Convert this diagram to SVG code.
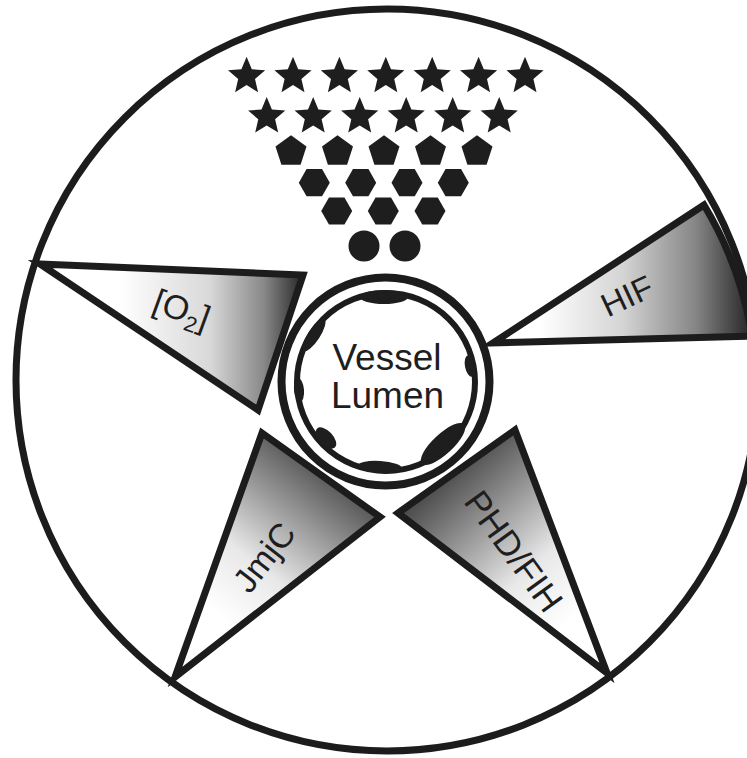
<svg xmlns="http://www.w3.org/2000/svg" width="747" height="758" viewBox="0 0 747 758">
<style>
.edge{stroke:#1c1c1c;stroke-width:7;stroke-linejoin:miter;stroke-miterlimit:10}
.dark{fill:#1e1e1e}
.lbl{font-family:"Liberation Sans",Arial,sans-serif;fill:#1e1e1e}
</style>
<defs>
<linearGradient id="gO2" gradientUnits="userSpaceOnUse" x1="120" y1="0" x2="300" y2="0">
<stop offset="0" stop-color="#ffffff"/><stop offset="0.5" stop-color="#d8d8d8"/><stop offset="0.8" stop-color="#888888"/><stop offset="1" stop-color="#2e2e2e"/>
</linearGradient>
<linearGradient id="gHIF" gradientUnits="userSpaceOnUse" x1="540" y1="0" x2="748" y2="0">
<stop offset="0" stop-color="#ffffff"/><stop offset="0.4" stop-color="#d4d4d4"/><stop offset="0.75" stop-color="#858585"/><stop offset="1" stop-color="#2a2a2a"/>
</linearGradient>
<linearGradient id="gJ" gradientUnits="userSpaceOnUse" x1="355" y1="455" x2="225" y2="620">
<stop offset="0" stop-color="#2e2e2e"/><stop offset="0.35" stop-color="#8a8a8a"/><stop offset="0.7" stop-color="#e8e8e8"/><stop offset="1" stop-color="#ffffff"/>
</linearGradient>
<linearGradient id="gP" gradientUnits="userSpaceOnUse" x1="415" y1="470" x2="560" y2="630">
<stop offset="0" stop-color="#2e2e2e"/><stop offset="0.35" stop-color="#8a8a8a"/><stop offset="0.7" stop-color="#e8e8e8"/><stop offset="1" stop-color="#ffffff"/>
</linearGradient>
<path id="star" d="M0,-19.6 L5.2,-7.1 L18.6,-6 L8.4,2.7 L11.5,15.9 L0,8.8 L-11.5,15.9 L-8.4,2.7 L-18.6,-6 L-5.2,-7.1 Z"/>
<path id="pent" d="M0,-16.3 L15.5,-5.04 L9.58,13.19 L-9.58,13.19 L-15.5,-5.04 Z"/>
<path id="hex" d="M15.5,0 L7.75,13.6 L-7.75,13.6 L-15.5,0 L-7.75,-13.6 L7.75,-13.6 Z"/>
</defs>
<rect width="747" height="758" fill="#ffffff"/>

<g id="outer-circle">
<circle cx="387" cy="380" r="371" fill="#ffffff" class="edge"/>
</g>

<g id="gradient-molecules" class="dark">
<use href="#star" x="246.6" y="76.3"/><use href="#star" x="293" y="76.3"/><use href="#star" x="339.4" y="76.3"/><use href="#star" x="385.8" y="76.3"/><use href="#star" x="432.2" y="76.3"/><use href="#star" x="478.6" y="76.3"/><use href="#star" x="525" y="76.3"/>
<use href="#star" x="266.7" y="116.6"/><use href="#star" x="313.2" y="116.6"/><use href="#star" x="359.7" y="116.6"/><use href="#star" x="406.2" y="116.6"/><use href="#star" x="452.7" y="116.6"/><use href="#star" x="499.2" y="116.6"/>
<use href="#pent" x="291" y="151.5"/><use href="#pent" x="337.5" y="151.5"/><use href="#pent" x="384" y="151.5"/><use href="#pent" x="430.5" y="151.5"/><use href="#pent" x="477" y="151.5"/>
<use href="#hex" x="314.3" y="182.7"/><use href="#hex" x="360.7" y="182.7"/><use href="#hex" x="407" y="182.7"/><use href="#hex" x="453.3" y="182.7"/>
<use href="#hex" x="336.7" y="211"/><use href="#hex" x="383.3" y="211"/><use href="#hex" x="430" y="211"/>
<circle cx="364" cy="246" r="15.5"/><circle cx="405" cy="246" r="15.5"/>
</g>

<g id="o2">
<path d="M40,264 L303,275 L258,410 Z" fill="url(#gO2)" class="edge"/>
<text class="lbl" font-size="34" transform="translate(182,309) rotate(20)" text-anchor="middle" dominant-baseline="central">[O<tspan font-size="22" dy="11">2</tspan><tspan dy="-11">]</tspan></text>
</g>

<g id="hif">
<path d="M493,343 L704,205 A366 366 0 0 1 752,336 Z" fill="url(#gHIF)" class="edge"/>
<text class="lbl" font-size="33" transform="translate(627,296) rotate(-25)" text-anchor="middle" dominant-baseline="central">HIF</text>
</g>

<g id="jmjc">
<path d="M262,433 L380,517 L175,677 Z" fill="url(#gJ)" class="edge"/>
<text class="lbl" font-size="34" transform="translate(264,557) rotate(-52)" text-anchor="middle" dominant-baseline="central">JmjC</text>
</g>

<g id="phd-fih">
<path d="M398,513 L515,430 L607,673 Z" fill="url(#gP)" class="edge"/>
<text class="lbl" font-size="35" transform="translate(514,551) rotate(54)" text-anchor="middle" dominant-baseline="central">PHD/FIH</text>
</g>

<g id="vessel-lumen">
<circle cx="385.5" cy="381.5" r="104" fill="#ffffff" stroke="#1c1c1c" stroke-width="8"/>
<circle cx="386" cy="382" r="89" fill="#ffffff" stroke="#1c1c1c" stroke-width="6"/>
<g class="dark">
<ellipse cx="384" cy="297" rx="24" ry="7"/>
<ellipse cx="0" cy="0" rx="11" ry="5" transform="translate(470,366) rotate(79)"/>
<ellipse cx="0" cy="0" rx="19" ry="6" transform="translate(314,335) rotate(-57)"/>
<ellipse cx="0" cy="0" rx="12" ry="5" transform="translate(299,390) rotate(85)"/>
<ellipse cx="0" cy="0" rx="13" ry="7" transform="translate(326,438) rotate(47)"/>
<ellipse cx="0" cy="0" rx="22" ry="6" transform="translate(380,467) rotate(4)"/>
<ellipse cx="0" cy="0" rx="29" ry="10" transform="translate(443,444) rotate(137)"/>
</g>
<text class="lbl" font-size="37" x="387" y="370" text-anchor="middle">Vessel</text>
<text class="lbl" font-size="37" x="387.5" y="408" text-anchor="middle">Lumen</text>
</g>

<g id="connectors"/>
</svg>
